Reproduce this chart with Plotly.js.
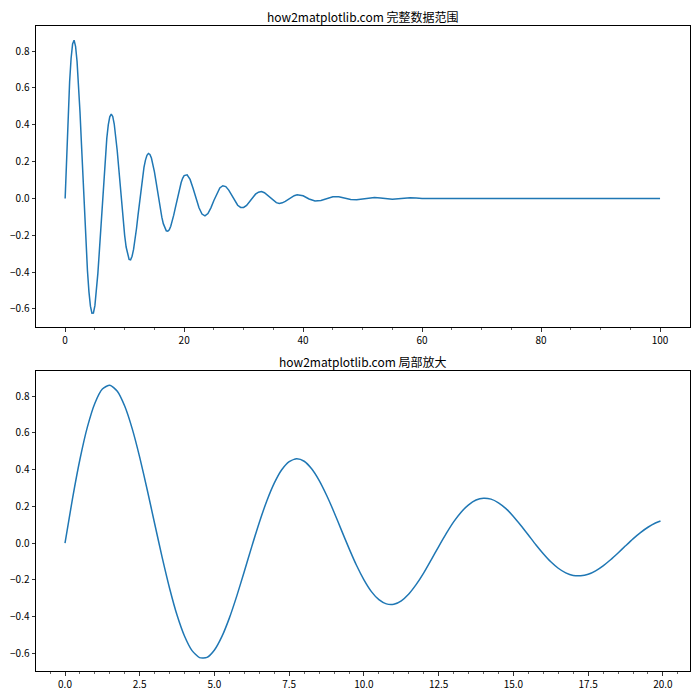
<!DOCTYPE html>
<html>
<head>
<meta charset="utf-8">
<script src="https://cdn.plot.ly/plotly-3.0.1.min.js"></script>
<style>html,body{margin:0;padding:0;background:#fff;}#chart{width:700px;height:700px;}</style>
</head>
<body>
<div id="chart"></div>
<script>
// Titles
const titleFull = "how2matplotlib.com 完整数据范围";
const titleZoom = "how2matplotlib.com 局部放大";

// Zoomed series (x, y), x from 0 to ~19.9
const zoomX = [0,0.25,0.5,0.75,1,1.25,1.5,1.75,2,2.25,2.5,2.75,3,3.25,3.5,3.75,4,4.25,4.5,4.75,
  5,5.25,5.5,5.75,6,6.25,6.5,6.75,7,7.25,7.5,7.75,8,8.25,8.5,8.75,9,9.25,9.5,9.75,
  10,10.25,10.5,10.75,11,11.25,11.5,11.75,12,12.25,12.5,12.75,13,13.25,13.5,13.75,14,14.25,14.5,14.75,
  15,15.25,15.5,15.75,16,16.25,16.5,16.75,17,17.25,17.5,17.75,18,18.25,18.5,18.75,19,19.25,19.5,19.75,19.92];
const zoomY = [0,0.241,0.456,0.632,0.761,0.838,0.859,0.826,0.744,0.621,0.466,0.290,0.105,-0.078,-0.247,-0.393,-0.507,-0.585,-0.623,-0.622,
  -0.582,-0.508,-0.407,-0.286,-0.153,-0.018,0.112,0.229,0.326,0.399,0.443,0.458,0.445,0.404,0.341,0.260,0.168,0.069,-0.029,-0.121,
  -0.200,-0.264,-0.308,-0.331,-0.333,-0.314,-0.277,-0.225,-0.162,-0.091,-0.019,0.051,0.115,0.168,0.208,0.234,0.244,0.239,0.219,0.187,
  0.145,0.096,0.044,-0.009,-0.058,-0.102,-0.137,-0.162,-0.176,-0.178,-0.170,-0.151,-0.124,-0.091,-0.054,-0.015,0.023,0.057,0.086,0.109,0.120];

// Full range series (x, y), x from 0 to 100
const fullX = zoomX.slice(0, -1).concat([20,20.5,21,21.5,22,22.5,23,23.5,24,24.5,25,25.5,26,26.5,27,27.5,28,28.5,29,29.5,
  30,30.5,31,31.5,32,32.5,33,33.5,34,34.5,35,35.5,36,36.5,37,37.5,38,38.5,39,39.5,
  40,41,42,43,44,45,46,47,48,49,50,51,52,53,54,55,56,57,58,59,60,62,65,70,75,80,85,90,95,100]);
const fullY = zoomY.slice(0, -1).concat([0.124,0.128,0.103,0.055,-0.001,-0.051,-0.085,-0.095,-0.082,-0.051,-0.011,0.028,0.057,0.069,0.064,0.045,0.017,-0.013,-0.037,-0.049,
  -0.049,-0.038,-0.018,0.004,0.023,0.034,0.037,0.031,0.018,0.002,-0.013,-0.023,-0.027,-0.024,-0.016,-0.005,0.007,0.015,0.020,0.019,
  0.014,-0.003,-0.014,-0.011,0.000,0.009,0.009,0.001,-0.006,-0.007,-0.002,0.004,0.005,0.002,-0.003,-0.004,-0.002,0.001,0.003,0.002,-0.001,0,0,0,0,0,0,0,0,0]);

const font = "'Noto Sans CJK SC', 'Noto Sans', sans-serif";
const lineStyle = {color: '#1f77b4', width: 1.5};

const traces = [
  {x: fullX, y: fullY, type: 'scatter', mode: 'lines', line: lineStyle, xaxis: 'x', yaxis: 'y', hoverinfo: 'skip'},
  {x: zoomX, y: zoomY, type: 'scatter', mode: 'lines', line: Object.assign({}, lineStyle, {shape: 'spline', smoothing: 0.6}), xaxis: 'x2', yaxis: 'y2', hoverinfo: 'skip'}
];

const axBase = {
  showline: true, mirror: true, linecolor: '#000', linewidth: 1,
  ticks: 'outside', ticklen: 3.5, tickwidth: 0.8, tickcolor: '#000',
  showgrid: false, zeroline: false,
  tickfont: {family: font, size: 10, color: '#000'}
};

const layout = {
  width: 700, height: 700,
  margin: {l: 0, r: 0, t: 0, b: 0},
  paper_bgcolor: '#fff', plot_bgcolor: '#fff',
  showlegend: false,
  font: {family: font},
  xaxis: Object.assign({}, axBase, {domain: [36/700, 689.5/700], range: [-4.9, 104.95], dtick: 20, tick0: 0,
    minor: {dtick: 5, ticklen: 2, ticks: 'outside', tickcolor: '#000', tickwidth: 0.6}, anchor: 'y'}),
  yaxis: Object.assign({}, axBase, {domain: [1-327/700, 1-26/700], range: [-0.698, 0.936], dtick: 0.2, tick0: 0, tickformat: '.1f', anchor: 'x'}),
  xaxis2: Object.assign({}, axBase, {domain: [36/700, 689.5/700], range: [-0.97, 20.89], dtick: 2.5, tick0: 0, tickformat: '.1f',
    minor: {dtick: 0.5, ticklen: 2, ticks: 'outside', tickcolor: '#000', tickwidth: 0.6}, anchor: 'y2'}),
  yaxis2: Object.assign({}, axBase, {domain: [1-671/700, 1-371/700], range: [-0.696, 0.936], dtick: 0.2, tick0: 0, tickformat: '.1f', anchor: 'x2'}),
  annotations: [
    {text: titleFull, xref: 'paper', yref: 'paper', x: (36+689.5)/2/700, y: 1-16/700, xanchor: 'center', yanchor: 'middle', showarrow: false, font: {family: font, size: 12, color: '#000'}},
    {text: titleZoom, xref: 'paper', yref: 'paper', x: (36+689.5)/2/700, y: 1-361/700, xanchor: 'center', yanchor: 'middle', showarrow: false, font: {family: font, size: 12, color: '#000'}}
  ]
};

Plotly.newPlot('chart', traces, layout, {displayModeBar: false, staticPlot: true});
</script>
</body>
</html>
